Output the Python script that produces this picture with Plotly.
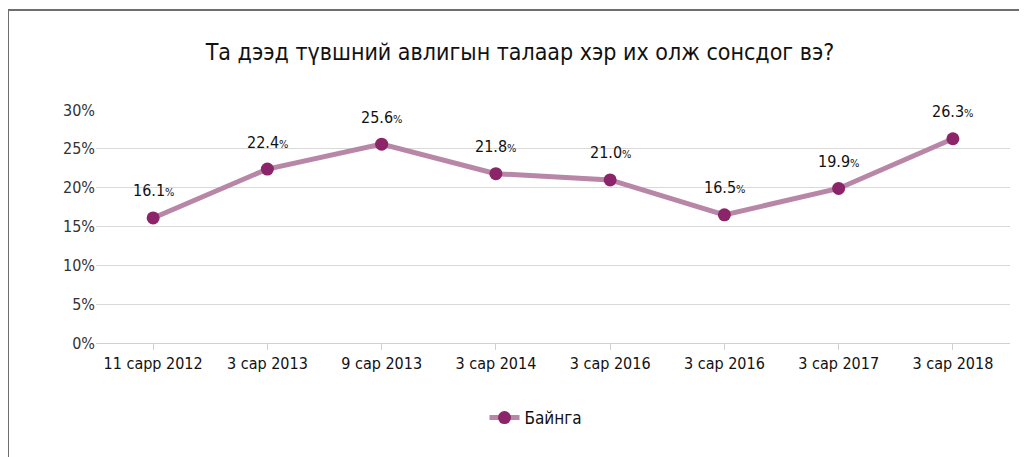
import plotly.graph_objects as go

categories = ["11 сарр 2012", "3 сар 2013", "9 сар 2013", "3 сар 2014",
              "3 сар 2016", "3 сар 2016", "3 сар 2017", "3 сар 2018"]
values = [16.1, 22.4, 25.6, 21.8, 21.0, 16.5, 19.9, 26.3]
series_name = "Байнга"
title = "Та дээд түвшний авлигын талаар хэр их олж сонсдог вэ?"
y_ticks = [0, 5, 10, 15, 20, 25, 30]

FONT = "Liberation Sans Narrow, DejaVu Sans Condensed, Arial Narrow, sans-serif"
x_idx = list(range(len(categories)))
labels = [f"{v:.1f}<span style='font-size:11px'>%</span>" for v in values]

fig = go.Figure()
fig.add_trace(go.Scatter(
    x=x_idx, y=values, mode="lines+markers", name=series_name,
    line=dict(color="#b886a6", width=5),
    marker=dict(color="#8b2468", size=13),
))
for xi, v, lab in zip(x_idx, values, labels):
    fig.add_annotation(x=xi, y=v, text=lab, showarrow=False, yshift=27,
                       font=dict(family=FONT, size=16, color="#111111"))

OFF = 8  # page body margin
W, H = 1027 - OFF, 457 - OFF
L, T = 96 - OFF, 110 - OFF
R = W - (1010 - OFF)
B = H - (343 - OFF)
pw, ph = W - L - R, H - T - B
bx = (8 - OFF - L) / pw
by = (H - B - (10 - OFF)) / ph

fig.update_layout(
    width=W, height=H,
    margin=dict(l=L, r=R, t=T, b=B),
    paper_bgcolor="white", plot_bgcolor="white",
    font=dict(family=FONT, size=16, color="#222222"),
    title=dict(text=title, x=(520 - OFF) / W, xanchor="center",
               y=1 - (52 - OFF) / H, yanchor="middle",
               font=dict(family=FONT, size=23, color="#111111")),
    showlegend=True,
    legend=dict(orientation="h", x=(536 - OFF - L) / pw, xanchor="center",
                y=-(418 - OFF - (H - B)) / ph, yanchor="middle",
                font=dict(family=FONT, size=17, color="#111111")),
    xaxis=dict(tickmode="array", tickvals=x_idx, ticktext=categories,
               range=[-0.5, len(categories) - 0.5], tickson="boundaries",
               ticks="outside", ticklen=6, tickcolor="#d0d0d0",
               showline=True, linecolor="#d0d0d0", linewidth=1,
               showgrid=False, zeroline=False,
               tickfont=dict(family=FONT, size=16, color="#111111")),
    yaxis=dict(range=[0, 30], tickvals=y_ticks,
               ticktext=[f"{t}%" for t in y_ticks],
               showgrid=True, gridcolor="#d9d9d9", gridwidth=1,
               zeroline=False, showline=False, ticks="",
               tickfont=dict(family=FONT, size=16, color="#333333")),
    shapes=[dict(type="path", xref="paper", yref="paper",
                 path=f"M {bx},-0.6 L {bx},{by} L 1.05,{by}",
                 line=dict(color="#6e6e6e", width=2))],
)

fig.write_html("out.html")
